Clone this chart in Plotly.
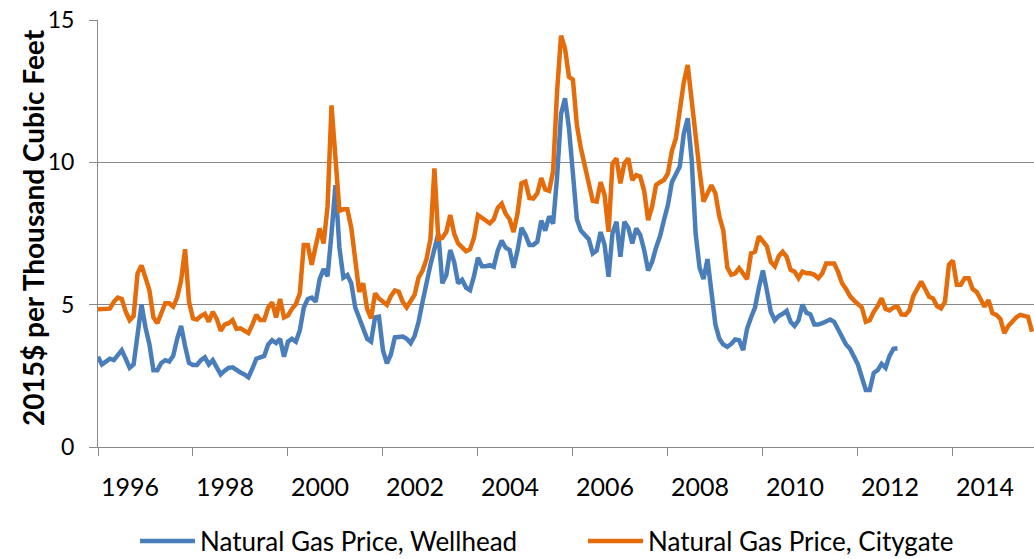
import numpy as np
import plotly.graph_objects as go

# Monthly values, Jan 1996 onwards (2015$ per thousand cubic feet)
citygate = [
    4.84, 4.84, 4.84, 4.86, 5.10, 5.25, 5.20, 4.75, 4.45, 4.60,
    6.10, 6.38, 5.95, 5.50, 4.55, 4.35, 4.70, 5.05, 5.05, 4.93,
    5.25, 5.85, 6.95, 5.10, 4.52, 4.48, 4.60, 4.68, 4.40, 4.75,
    4.50, 4.08, 4.30, 4.35, 4.46, 4.15, 4.17, 4.10, 4.00, 4.30,
    4.64, 4.46, 4.46, 4.90, 5.08, 4.55, 5.20, 4.55, 4.62, 4.85,
    5.02, 5.40, 7.10, 7.10, 6.40, 7.05, 7.68, 7.15, 8.45, 12.0,
    10.2, 8.30, 8.35, 8.35, 7.70, 6.50, 5.45, 5.75, 4.85, 4.52,
    5.40, 5.22, 5.10, 4.99, 5.30, 5.50, 5.45, 5.10, 4.90, 5.15,
    5.35, 5.95, 6.20, 6.60, 7.30, 9.79, 7.30, 7.35, 7.55, 8.15,
    7.50, 7.15, 7.00, 6.88, 6.95, 7.35, 8.15, 8.05, 7.95, 7.86,
    8.00, 8.40, 8.55, 8.20, 8.00, 7.55, 8.20, 9.26, 9.32, 8.75,
    8.73, 8.91, 9.45, 9.05, 9.00, 9.70, 12.5, 14.45, 14.0, 13.0,
    12.9, 11.3, 10.5, 9.84, 9.30, 8.65, 8.62, 9.30, 8.85, 7.56,
    9.96, 10.14, 9.26, 9.96, 10.14, 9.38, 9.55, 9.50, 9.00, 7.97,
    8.44, 9.20, 9.30, 9.38, 9.61, 10.40, 10.84, 11.80, 12.80, 13.42,
    12.07, 10.78, 9.70, 8.62, 8.91, 9.20, 8.91, 8.10, 7.60, 6.30,
    6.05, 6.10, 6.28, 6.10, 5.90, 6.80, 6.86, 7.40, 7.25, 7.05,
    6.50, 6.35, 6.70, 6.86, 6.68, 6.22, 6.16, 5.93, 6.16, 6.10,
    6.10, 6.05, 5.93, 6.10, 6.45, 6.45, 6.45, 6.15, 5.75, 5.55,
    5.30, 5.15, 5.00, 4.90, 4.40, 4.45, 4.75, 4.95, 5.22, 4.85,
    4.80, 4.90, 4.93, 4.66, 4.64, 4.80, 5.30, 5.60, 5.81, 5.55,
    5.28, 5.22, 4.95, 4.87, 5.10, 6.40, 6.55, 5.70, 5.70, 5.93,
    5.93, 5.55, 5.45, 5.20, 4.93, 5.16, 4.70, 4.64, 4.50, 4.00,
    4.25, 4.40, 4.55, 4.64, 4.60, 4.57, 4.05,
]

wellhead = [
    3.17, 2.90, 3.00, 3.10, 3.05, 3.20, 3.40, 3.10, 2.78, 2.90,
    4.10, 5.00, 4.20, 3.60, 2.70, 2.70, 2.95, 3.05, 3.00, 3.20,
    3.80, 4.25, 3.55, 2.95, 2.88, 2.88, 3.05, 3.15, 2.90, 3.05,
    2.80, 2.55, 2.68, 2.78, 2.80, 2.70, 2.62, 2.55, 2.45, 2.75,
    3.10, 3.15, 3.20, 3.60, 3.75, 3.65, 3.80, 3.17, 3.70, 3.80,
    3.70, 4.10, 4.90, 5.20, 5.25, 5.10, 5.90, 6.25, 6.00, 7.50,
    9.20, 7.00, 5.95, 6.04, 5.75, 4.90, 4.50, 4.10, 3.80, 3.70,
    4.55, 4.58, 3.40, 2.94, 3.25, 3.85, 3.88, 3.88, 3.80, 3.65,
    3.90, 4.40, 5.10, 5.85, 6.40, 6.95, 7.50, 5.75, 6.04, 6.92,
    6.50, 5.75, 5.87, 5.60, 5.51, 6.00, 6.65, 6.35, 6.35, 6.39,
    6.33, 6.90, 7.25, 7.00, 6.92, 6.30, 6.90, 7.70, 7.45, 7.10,
    7.10, 7.21, 7.95, 7.60, 8.10, 7.85, 9.50, 11.7, 12.25, 11.2,
    9.60, 8.00, 7.60, 7.45, 7.30, 6.80, 6.90, 7.55, 7.10, 5.98,
    7.51, 7.91, 6.68, 7.91, 7.70, 7.15, 7.68, 7.45, 6.92, 6.20,
    6.50, 7.00, 7.40, 7.97, 8.50, 9.30, 9.60, 9.85, 11.0, 11.55,
    10.1, 7.50, 6.30, 5.90, 6.60, 5.50, 4.30, 3.80, 3.60, 3.52,
    3.62, 3.78, 3.75, 3.40, 4.15, 4.55, 4.90, 5.60, 6.20, 5.50,
    4.75, 4.45, 4.60, 4.68, 4.78, 4.40, 4.25, 4.45, 5.00, 4.72,
    4.66, 4.30, 4.30, 4.35, 4.40, 4.48, 4.40, 4.15, 3.85, 3.60,
    3.45, 3.20, 2.90, 2.45, 2.00, 2.00, 2.60, 2.70, 2.92, 2.78,
    3.20, 3.45, 3.47,
]

year_labels = ["1996", "1998", "2000", "2002", "2004", "2006", "2008", "2010", "2012", "2014"]
y_ticks = [0, 5, 10, 15]

months_city = np.arange(len(citygate))
months_well = np.arange(len(wellhead))

BLUE = "#4A7EBB"
ORANGE = "#E46C0A"
GRID = "#898989"
FONT = "Lato"

fig = go.Figure()
fig.add_trace(go.Scatter(x=months_well, y=wellhead, mode="lines",
                         name="Natural Gas Price, Wellhead", legend="legend",
                         line=dict(color=BLUE, width=4.5)))
fig.add_trace(go.Scatter(x=months_city, y=citygate, mode="lines",
                         name="Natural Gas Price, Citygate", legend="legend2",
                         line=dict(color=ORANGE, width=4.5)))

tick_pos = [24 * k for k in range(len(year_labels))]
label_pos = [24 * k + 8.1 for k in range(len(year_labels))]

leg_common = dict(orientation="h", xref="paper", yref="paper",
                  xanchor="left", yanchor="middle", itemwidth=55,
                  font=dict(size=26, family=FONT, color="#000000"),
                  bgcolor="rgba(0,0,0,0)")

fig.update_layout(
    width=1034, height=559,
    margin=dict(l=98, r=0, t=20, b=112, autoexpand=False),
    paper_bgcolor="white", plot_bgcolor="white",
    font=dict(family=FONT, color="#000000"),
    showlegend=True,
    legend=dict(x=(135 - 98) / 936, y=(447 - 541) / 427, **leg_common),
    legend2=dict(x=(583 - 98) / 936, y=(447 - 541) / 427, **leg_common),
    xaxis=dict(range=[0, 236.5], tickmode="array", tickvals=label_pos,
               ticktext=year_labels, ticks="", showgrid=False, zeroline=False,
               showline=True, linecolor=GRID, linewidth=1,
               tickfont=dict(size=25, family=FONT, color="#000000"),
               ticklabelstandoff=18,
               minor=dict(tickmode="array", tickvals=tick_pos, ticks="outside",
                          ticklen=8, tickcolor=GRID, tickwidth=1, showgrid=False)),
    yaxis=dict(range=[0, 15], tickmode="array", tickvals=y_ticks,
               showgrid=True, gridcolor=GRID, gridwidth=1, zeroline=False,
               showline=True, linecolor=GRID, linewidth=1,
               ticks="outside", ticklen=8, tickcolor=GRID, tickwidth=1,
               tickfont=dict(size=23, family=FONT, color="#000000"),
               ticklabelstandoff=10),
    annotations=[dict(text="<b>2015$ per Thousand Cubic Feet</b>", textangle=-90,
                      xref="paper", yref="paper", x=(33 - 98) / 936, y=(447 - 228) / 427,
                      xanchor="center", yanchor="middle", showarrow=False,
                      font=dict(size=28, family=FONT, color="#000000"))],
)

fig.write_html("out.html", config={"displayModeBar": False},
               post_script="document.body.style.margin='0px';")
